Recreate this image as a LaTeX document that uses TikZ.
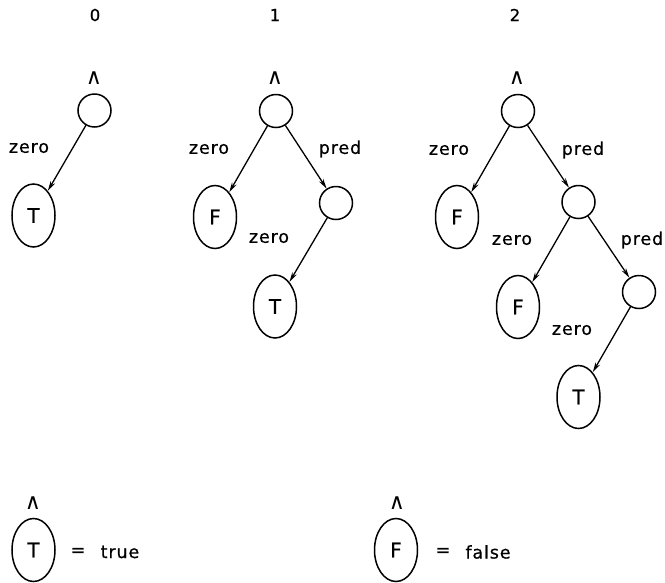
\documentclass[tikz,border=0pt]{standalone}
\usepackage{fontspec}
\setmainfont{DejaVu Sans}[LetterSpace=5,FakeBold=0.6]
\newfontfamily\wedgefont{DejaVu Sans}
\usetikzlibrary{shapes.geometric,arrows.meta}
\tikzset{
  every node/.style={font=\fontsize{17.5}{19}\selectfont},
  knot/.style={circle,draw,line width=1.5pt,minimum size=33pt,inner sep=0pt},
  leaf/.style={ellipse,draw,line width=1.5pt,minimum width=43pt,minimum height=63pt,inner sep=0pt,font=\fontsize{20}{22}\selectfont},
  lab/.style={inner sep=0pt},
  hd/.style={inner sep=0pt,font=\fontsize{16.5}{18}\selectfont},
  wedge/.style={inner sep=0pt,font=\wedgefont\fontsize{22}{23}\selectfont},
  edge/.style={line width=1.3pt,-{Stealth[length=10pt,width=5pt]}},
}
\begin{document}
\begin{tikzpicture}[x=1pt,y=-1pt]
\useasboundingbox (0,0) rectangle (665,582);
% tree 0
\node[hd] (h0) at (95,15) {0};
\node[knot] (r0) at (94.5,110.5) {};
\node[wedge] (w0) at (94,78) {∧};
\node[leaf] (t0) at (33.5,215.5) {T};
\node[lab] (z0) at (29,148) {zero};
\draw[edge] (r0) -- (t0);
% tree 1
\node[hd] (h1) at (275,15) {1};
\node[knot] (r1) at (276,111) {};
\node[wedge] (w1) at (275,78) {∧};
\node[leaf] (f1) at (215,217) {F};
\node[knot] (p1) at (336,203) {};
\node[leaf] (t1) at (275,306.5) {T};
\node[lab] (z1a) at (209,149) {zero};
\node[lab] (p1a) at (340,149) {pred};
\node[lab] (z1b) at (269,238) {zero};
\draw[edge] (r1) -- (f1);
\draw[edge] (r1) -- (p1);
\draw[edge] (p1) -- (t1);
% tree 2
\node[hd] (h2) at (515,15) {2};
\node[knot] (r2) at (518,111) {};
\node[wedge] (w2) at (517,78) {∧};
\node[leaf] (f2a) at (457,217) {F};
\node[knot] (p2a) at (578.5,202) {};
\node[leaf] (f2b) at (518,307) {F};
\node[knot] (p2b) at (639,292) {};
\node[leaf] (t2) at (578.5,397) {T};
\node[lab] (z2a) at (449,150) {zero};
\node[lab] (p2c) at (583,150) {pred};
\node[lab] (z2b) at (512,240) {zero};
\node[lab] (p2d) at (642,240) {pred};
\node[lab] (z2c) at (572,330) {zero};
\draw[edge] (r2) -- (f2a);
\draw[edge] (r2) -- (p2a);
\draw[edge] (p2a) -- (f2b);
\draw[edge] (p2a) -- (p2b);
\draw[edge] (p2b) -- (t2);
% legend
\node[wedge] (wt) at (33,503) {∧};
\node[leaf] (lt) at (33.5,550) {T};
\node[lab] (eqt) at (78,552) {=};
\node[lab] (tt) at (120,552) {true};
\node[wedge] (wf) at (397,503) {∧};
\node[leaf] (lf) at (396,550) {F};
\node[lab] (eqf) at (443,552) {=};
\node[lab] (ff) at (488,552) {false};
\end{tikzpicture}
\end{document}
